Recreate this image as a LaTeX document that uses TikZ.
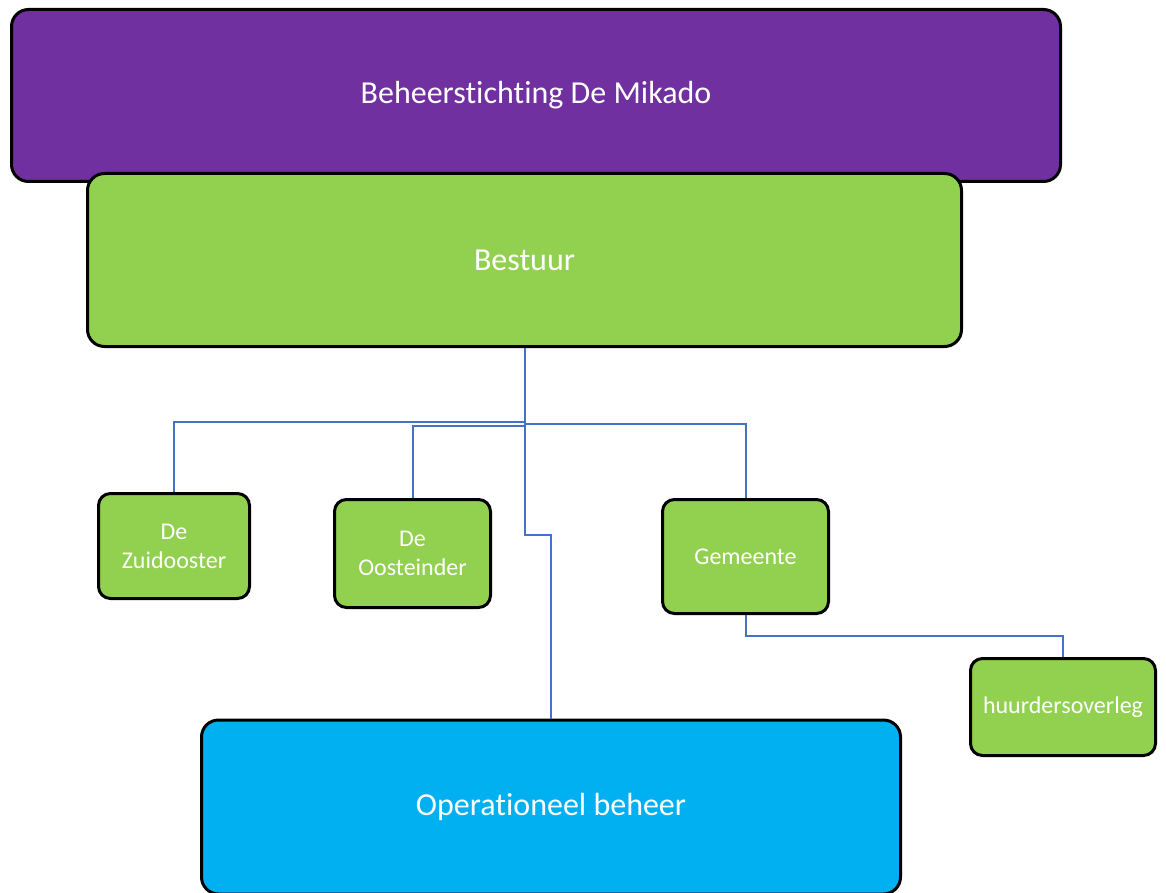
\documentclass[tikz,border=0pt]{standalone}
\usepackage{fontspec}
\setmainfont[Ligatures=NoCommon]{Carlito}
\usepackage{tikz}
\usetikzlibrary{arrows.meta}

\definecolor{mikadopurple}{HTML}{7030A0}
\definecolor{mikadogreen}{HTML}{92D050}
\definecolor{mikadoblue}{HTML}{00B0F0}
\definecolor{linkblue}{HTML}{4472C4}

\begin{document}
\begin{tikzpicture}[x=1pt, y=-1pt,
    bigbox/.style = {draw=black, line width=3pt, rounded corners=17pt, inner sep=0pt,
                     text=white, font=\fontsize{32}{38}\selectfont},
    smallbox/.style = {draw=black, line width=3pt, rounded corners=12pt, inner sep=0pt,
                       fill=mikadogreen, text=white, align=center,
                       font=\fontsize{24}{29}\selectfont},
    link/.style = {draw=linkblue, line width=2pt}]
    \useasboundingbox (0,0) rectangle (1166,893);

    % top levels
    \node[bigbox, fill=mikadopurple, minimum width=1049pt, minimum height=172pt] (stichting) at (536,95.5) {Beheerstichting De Mikado};
    \node[bigbox, fill=mikadogreen, minimum width=874pt, minimum height=173pt] (bestuur) at (524.5,260) {Bestuur};

    % partners
    \node[smallbox, minimum width=151pt, minimum height=105pt] (zuid) at (174,546) {De\\Zuidooster};
    \node[smallbox, minimum width=156pt, minimum height=108pt] (oost) at (412.5,553.5) {De\\Oosteinder};
    \node[smallbox, minimum width=166pt, minimum height=114pt] (gemeente) at (745.5,556.5) {Gemeente};
    \node[smallbox, minimum width=185pt, minimum height=97pt] (huurders) at (1063,707) {huurdersoverleg};

    \node[bigbox, fill=mikadoblue, minimum width=699pt, minimum height=174pt] (operationeel) at (551,807) {Operationeel beheer};

    % connectors
    \draw[link] (bestuur.south) -- ++(0,73.5) -| (zuid.north);
    \draw[link] (bestuur.south) -- ++(0,77.5) -| (oost.north);
    \draw[link] (bestuur.south) -- ++(0,76) -| (gemeente.north);
    \draw[link] (bestuur.south) -- ++(0,186.5) -| (operationeel.north);
    \draw[link] (gemeente.south) -- ++(0,21) -| (huurders.north);
\end{tikzpicture}
\end{document}
